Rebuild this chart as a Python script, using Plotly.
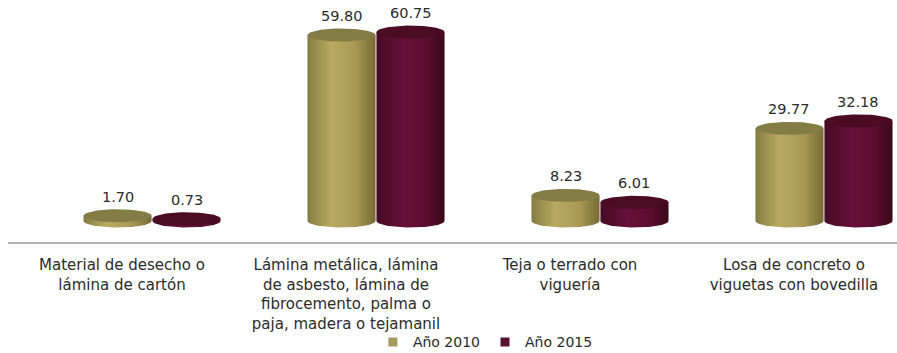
import numpy as np
import plotly.graph_objects as go

# Tipo de material en techos (%), 2010 y 2015
categorias = [
    "Material de desecho o<br>lámina de cartón",
    "Lámina metálica, lámina<br>de asbesto, lámina de<br>fibrocemento, palma o<br>paja, madera o tejamanil",
    "Teja o terrado con<br>viguería",
    "Losa de concreto o<br>viguetas con bovedilla",
]
anio_2010 = [1.70, 59.80, 8.23, 29.77]
anio_2015 = [0.73, 60.75, 6.01, 32.18]
series = ["Año 2010", "Año 2015"]

FUENTE = "DejaVu Sans"
COLOR_TEXTO = "#2b2b2b"

# Styling for each series: body gradient (edge, light, edge), top cap colour, legend swatch
estilos = {
    "Año 2010": dict(
        grad=[[0, "#877b40"], [0.35, "#b8aa62"], [0.7, "#a89a54"], [1, "#766a34"]],
        top="#837c45", swatch="#a59b5f", offset=-0.02,
    ),
    "Año 2015": dict(
        grad=[[0, "#450a22"], [0.4, "#67103a"], [0.75, "#5a0d30"], [1, "#3a0819"]],
        top="#4a0b23", swatch="#5c1031", offset=0.288,
    ),
}

RADIO = 0.152          # cylinder radius in category units
Y_MIN, Y_MAX = -6.75, 71.05
ALTO_PLOT = 242
RY = 6.5 * (Y_MAX - Y_MIN) / ALTO_PLOT   # ellipse half-height in data units

fig = go.Figure()
t_low = np.linspace(0, -np.pi, 40)
t_full = np.linspace(0, 2 * np.pi, 80)

def cilindro(cx, valor, est):
    # body: flat top edge, straight sides, rounded bottom
    xs = [cx - RADIO, cx + RADIO] + list(cx + RADIO * np.cos(t_low)) + [cx - RADIO]
    ys = [valor, valor] + list(RY * np.sin(t_low)) + [valor]
    fig.add_trace(go.Scatter(
        x=xs, y=ys, mode="lines", fill="toself", line=dict(width=0),
        fillgradient=dict(type="horizontal", colorscale=est["grad"]),
        hoverinfo="skip", showlegend=False,
    ))
    # top cap
    fig.add_trace(go.Scatter(
        x=cx + RADIO * np.cos(t_full), y=valor + RY * np.sin(t_full),
        mode="lines", fill="toself", line=dict(width=0), fillcolor=est["top"],
        hoverinfo="skip", showlegend=False,
    ))

anotaciones = []
for i in range(len(categorias)):
    # back cylinder first, front cylinder last
    for nombre, valores in (("Año 2015", anio_2015), ("Año 2010", anio_2010)):
        est = estilos[nombre]
        cx = i + est["offset"]
        cilindro(cx, valores[i], est)
        anotaciones.append(dict(
            x=cx, y=valores[i], text=f"{valores[i]:.2f}", showarrow=False,
            yshift=19, font=dict(family=FUENTE, size=14.5, color=COLOR_TEXTO),
        ))

# legend swatches
for nombre in series:
    fig.add_trace(go.Scatter(
        x=[None], y=[None], mode="markers", name=nombre,
        marker=dict(symbol="square", size=9, color=estilos[nombre]["swatch"]),
    ))

fig.update_layout(
    width=897, height=353,
    margin=dict(l=8, r=0, t=0, b=353 - ALTO_PLOT, autoexpand=False),
    paper_bgcolor="white", plot_bgcolor="white",
    font=dict(family=FUENTE, size=14, color=COLOR_TEXTO),
    annotations=anotaciones,
    showlegend=True,
    legend=dict(
        orientation="h", x=0.537, xanchor="center", y=-0.415, yanchor="middle",
        bgcolor="rgba(0,0,0,0)",
        font=dict(family=FUENTE, size=14, color=COLOR_TEXTO),
        itemwidth=30, traceorder="normal",
    ),
    xaxis=dict(
        range=[-0.509, 3.46], tickmode="array", tickvals=list(range(len(categorias))),
        ticktext=categorias, showgrid=False, zeroline=False, automargin=False,
        showline=True, linecolor="#b3b3b3", linewidth=2,
        ticks="outside", ticklen=8, tickcolor="rgba(0,0,0,0)",
        tickfont=dict(family=FUENTE, size=15, color=COLOR_TEXTO),
        fixedrange=True,
    ),
    yaxis=dict(
        range=[Y_MIN, Y_MAX], visible=False, showgrid=False, zeroline=False,
        fixedrange=True,
    ),
)

fig.write_html("out.html")
